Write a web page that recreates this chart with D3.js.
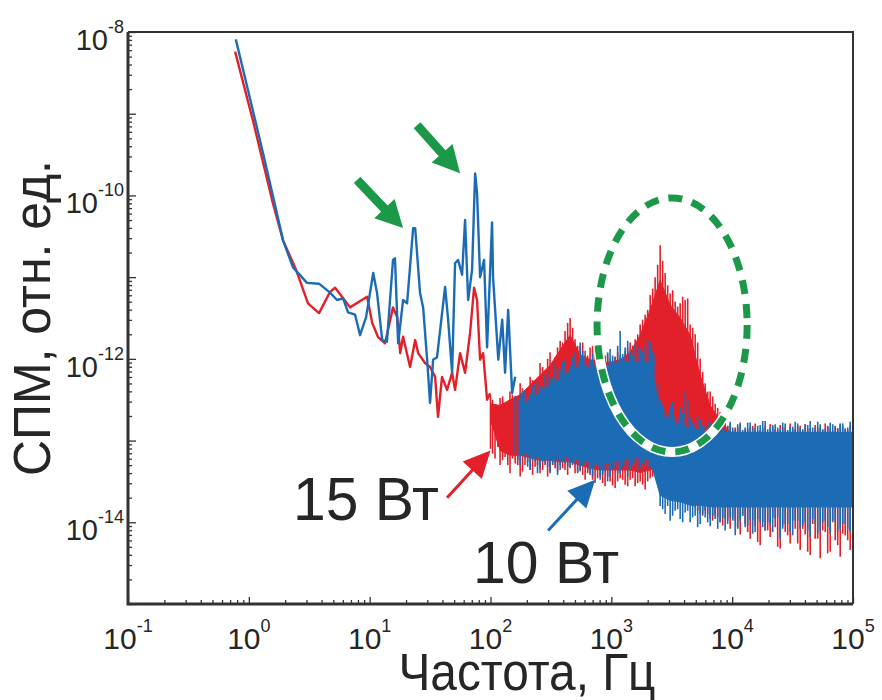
<!DOCTYPE html>
<html lang="ru">
<head>
<meta charset="UTF-8">
<title>СПМ</title>
<script src="https://d3js.org/d3.v7.min.js"></script>
<style>
  body { margin: 0; background: #fff; }
  svg text { font-family: "Liberation Sans", Arial, Helvetica, sans-serif; fill: #262626; }
</style>
</head>
<body>
<svg id="chart" width="882" height="700"></svg>
<script>
// значения СПМ записаны как lg(P), частоты в Гц
// 10 Вт, низкочастотная часть (отдельные точки)
const blueLineFreq = [0.78, 1.08, 1.31, 1.59, 1.92, 2.32, 3.03, 3.81, 4.70, 5.37, 6.03, 6.62, 7.57, 8.33, 9.34,
  10.7, 11.5, 12.7, 13.9, 15.6, 16.2, 17.2, 18.9, 20.4, 22.9, 23.8, 26.1, 27.7, 29.9, 31.6, 33.5, 36.1,
  42.1, 44.6, 48.1, 50.9, 53.9, 58.2, 61.6, 65.3, 70.4, 74.6, 77.4, 82.0, 88.5, 93.7, 103, 105, 116, 125,
  132, 140, 151, 160];
const blueLineLg = [-8.09, -8.96, -9.48, -10.02, -10.55, -10.88, -11.07, -11.08, -11.19, -11.28, -11.26, -11.43, -11.46, -11.71, -11.49,
  -10.95, -11.19, -11.77, -11.79, -10.79, -10.77, -11.81, -11.28, -11.32, -10.40, -10.40, -11.19, -11.37, -12.01, -12.54, -12.01, -11.98,
  -11.12, -11.52, -12.17, -10.83, -10.79, -10.97, -10.30, -11.28, -10.91, -9.73, -9.97, -11.00, -10.79, -11.86, -10.33, -11.00, -12.01, -11.52,
  -12.17, -11.40, -12.42, -12.22];

// 15 Вт, низкочастотная часть
const redLineFreq = [0.77, 1.08, 1.56, 1.92, 2.46, 3.09, 3.81, 4.70, 5.17, 5.91, 6.88, 9.52, 10.5, 11.7, 13.4, 15.6,
  16.9, 17.9, 18.9, 21.6, 23.8, 25.2, 28.7, 31.6, 34.8, 36.8, 39.7, 43.7, 48.1, 50.9, 56.0, 61.6, 67.8,
  73.1, 77.4, 82.0, 86.9, 93.7, 99.2];
const redLineLg = [-8.24, -9.08, -10.06, -10.55, -10.91, -11.32, -11.44, -11.18, -11.13, -11.24, -11.37, -11.24, -11.56, -11.73, -11.81, -11.37,
  -11.49, -11.93, -11.73, -12.10, -11.77, -11.93, -12.05, -12.10, -12.22, -12.71, -12.22, -12.38, -12.17, -12.38, -11.93, -12.17, -11.68,
  -11.13, -11.28, -12.01, -11.93, -12.50, -12.42];

// плотная (шумовая) часть: сплошное ядро полосы
const coreFreq = [100, 120, 145, 176, 213, 257, 311, 377, 456, 552, 667, 808, 977, 1183, 1431, 1732, 2096, 2535, 3068,
  3712, 4491, 5434, 6575, 7956, 9627, 11650, 14090, 17050, 20640, 24970, 30210, 36560, 44230, 53520, 64770,
  78360, 94800, 100000];
const redCoreHi = [-12.55, -12.57, -12.50, -12.44, -12.32, -12.20, -12.08, -11.89, -11.71, -11.95, -12.01, -12.04,
  -12.04, -12.01, -11.92, -11.71, -11.40, -11.04, -11.34, -11.50, -11.71, -12.20, -12.57, -12.75,
  -12.90, -12.90, -12.90, -12.90, -12.90, -12.90, -12.90, -12.90, -12.90, -12.90, -12.90, -12.90, -12.90, -12.90];
const redCoreLo = [-12.75, -13.12, -13.18, -13.18, -13.21, -13.24, -13.24, -13.26, -13.26, -13.30, -13.34, -13.36,
  -13.36, -13.36, -13.36, -13.39, -13.36, -13.30, -13.36, -13.48, -13.61, -13.73, -13.79, -13.81,
  -13.81, -13.81, -13.81, -13.81, -13.81, -13.81, -13.81, -13.81, -13.81, -13.81, -13.81, -13.81, -13.81, -13.81];
const blueCoreHi = [null, null, null, -12.57, -12.50, -12.41, -12.32, -12.24, -12.16, -12.08, -12.11, -12.11,
  -12.08, -12.04, -12.04, -12.04, -12.04, -12.65, -12.75, -12.81, -12.85, -12.87,
  -12.90, -12.90, -12.90, -12.90, -12.90, -12.90, -12.90, -12.90, -12.90, -12.90, -12.90, -12.90, -12.90, -12.90, -12.90, -12.90];
const blueCoreLo = [null, null, null, -13.12, -13.18, -13.21, -13.24, -13.21, -13.21, -13.24, -13.26, -13.30,
  -13.26, -13.24, -13.21, -13.21, -13.24, -13.67, -13.73, -13.75, -13.79, -13.79,
  -13.81, -13.81, -13.81, -13.81, -13.81, -13.81, -13.81, -13.81, -13.81, -13.81, -13.81, -13.81, -13.81, -13.81, -13.81, -13.81];

// выбросы шума: максимум и минимум в узких интервалах частот (первая сетка)
const spikeFreq = [100, 109, 120, 132, 145, 160, 176, 193, 213, 234, 257, 283, 311, 343, 377, 414, 456, 501, 552, 607,
  667, 734, 808, 888, 977, 1075, 1183, 1301, 1431, 1574, 1732, 1905, 2096, 2305, 2535, 2789, 3068, 3374, 3712, 4083,
  4491, 4940, 5434, 5977, 6575, 7233, 7956, 8752, 9627, 10590, 11650, 12810, 14090, 15500, 17050, 18760, 20640, 22700,
  24970, 27470, 30210, 33230, 36560, 40210, 44230, 48660, 53520, 58880, 64770, 71240, 78360, 86200, 94800, 100000];
const redSpikeHi = [-12.44, -12.60, -12.48, -12.66, -12.40, -12.58, -12.30, -12.47, -12.22, -12.38,
  -12.05, -12.14, -11.92, -11.98, -11.78, -11.66, -11.50, -11.76, -11.85, -11.90,
  -11.86, -11.95, -11.98, -11.96, -12.00, -11.97, -11.96, -11.90, -11.80, -11.76,
  -11.58, -11.46, -11.22, -11.00, -10.61, -10.95, -11.20, -11.30, -11.32, -11.28,
  -11.58, -11.70, -12.00, -12.30, -12.40, -12.55, -12.65, -12.72, -12.80, -12.84,
  -12.78, -12.86, -12.83, -12.79, -12.87, -12.82, -12.80, -12.86, -12.81, -12.84,
  -12.79, -12.86, -12.82, -12.80, -12.85, -12.81, -12.84, -12.79, -12.85, -12.82,
  -12.80, -12.86, -12.81, -12.84];
const redSpikeLo = [-13.10, -13.22, -13.30, -13.20, -13.40, -13.28, -13.44, -13.30, -13.36, -13.32,
  -13.40, -13.30, -13.38, -13.34, -13.30, -13.36, -13.32, -13.40, -13.36, -13.48,
  -13.42, -13.52, -13.44, -13.56, -13.50, -13.58, -13.46, -13.54, -13.48, -13.56,
  -13.50, -13.60, -13.46, -13.42, -13.38, -13.40, -13.44, -13.55, -13.62, -13.70,
  -13.76, -13.82, -13.90, -13.86, -13.95, -13.92, -14.00, -13.96, -14.08, -13.98,
  -14.15, -14.02, -14.20, -14.05, -14.28, -14.10, -14.18, -14.06, -14.32, -14.12,
  -14.26, -14.08, -14.34, -14.15, -14.40, -14.20, -14.44, -14.12, -14.36, -14.22,
  -14.42, -14.16, -14.34, -14.25];
const blueSpikeHi = [null, null, null, null, null, -12.45, -12.44, -12.38, -12.42, -12.30,
  -12.32, -12.20, -12.25, -12.06, -12.14, -12.00, -12.08, -11.92, -11.80, -11.96,
  -12.00, -12.05, -11.94, -12.02, -11.88, -11.98, -11.66, -11.86, -11.90, -11.82,
  -11.88, -11.84, -11.80, -11.96, -12.50, -12.62, -12.58, -12.70, -12.60, -12.40,
  -12.72, -12.80, -12.74, -12.82, -12.78, -12.86, -12.80, -12.84, -12.77, -12.86,
  -12.80, -12.84, -12.78, -12.85, -12.81, -12.76, -12.84, -12.80, -12.86, -12.79,
  -12.83, -12.77, -12.85, -12.80, -12.76, -12.84, -12.80, -12.86, -12.78, -12.83,
  -12.79, -12.85, -12.77, -12.82];
const blueSpikeLo = [null, null, null, null, null, -13.15, -13.30, -13.22, -13.36, -13.26,
  -13.34, -13.28, -13.40, -13.30, -13.36, -13.28, -13.34, -13.30, -13.38, -13.30,
  -13.40, -13.34, -13.48, -13.38, -13.44, -13.34, -13.40, -13.30, -13.36, -13.28,
  -13.34, -13.30, -13.32, -13.40, -13.80, -13.90, -13.98, -13.86, -13.96, -13.88,
  -14.00, -13.92, -14.02, -13.94, -14.05, -13.96, -14.00, -14.10, -13.94, -14.16,
  -13.98, -14.06, -13.97, -14.12, -14.00, -14.10, -14.04, -13.96, -14.20, -14.02,
  -14.12, -13.98, -14.08, -14.00, -14.18, -14.02, -14.10, -13.98, -14.14, -14.00,
  -14.08, -14.02, -14.12, -14.04];

// выбросы шума (вторая сетка, между узлами первой)
const spikeFreq2 = [104, 115, 126, 139, 152, 168, 184, 203, 223, 245, 270, 297, 327, 359, 395, 435, 478, 526,
  579, 637, 700, 770, 847, 932, 1025, 1128, 1241, 1365, 1501, 1652, 1817, 1998, 2198, 2418, 2660, 2926,
  3218, 3540, 3894, 4284, 4712, 5183, 5701, 6272, 6899, 7589, 8348, 9182, 10100, 11110, 12220, 13440,
  14790, 16270, 17890, 19680, 21650, 23810, 26190, 28810, 31690, 34860, 38350, 42170, 46390, 51030,
  56130, 61750, 67920, 74710, 82180, 90400];
const redSpikeHi2 = [-12.50, -12.62, -12.46, -12.58, -12.44,
  -12.52, -12.36, -12.40, -12.26, -12.30, -12.10, -12.00, -12.12, -11.86, -11.80, -11.56, -11.62, -11.84,
  -11.80, -11.96, -11.84, -11.92, -12.02, -11.94, -12.04, -11.92, -11.98, -11.86, -11.84, -11.70, -11.52,
  -11.40, -11.14,
  -10.85, -10.80, -11.10, -11.16, -11.36, -11.24, -11.26, -11.62, -11.80, -12.16, -12.40, -12.46, -12.60,
  -12.70, -12.82,
  -12.88, -12.84, -12.90, -12.86, -12.82, -12.88, -12.85, -12.90, -12.83, -12.87, -12.84, -12.89, -12.86,
  -12.82, -12.88, -12.85, -12.90, -12.84, -12.87, -12.83, -12.88, -12.85, -12.82, -12.87];
const redSpikeLo2 = [-13.16, -13.08, -13.24, -13.30, -13.22,
  -13.30, -13.38, -13.26, -13.42, -13.30, -13.36, -13.44, -13.30, -13.38, -13.34, -13.42, -13.30, -13.38,
  -13.42, -13.40, -13.48, -13.46, -13.52, -13.44, -13.55, -13.50, -13.48, -13.56, -13.46, -13.52, -13.54,
  -13.50, -13.44,
  -13.40, -13.34, -13.46, -13.40, -13.58, -13.66, -13.72, -13.80, -13.86, -13.92, -13.90, -13.98, -13.94,
  -14.04, -13.98,
  -13.96, -14.06, -13.92, -14.12, -13.98, -14.24, -14.00, -14.10, -13.94, -14.30, -14.04, -14.16, -13.98,
  -14.26, -14.08, -14.36, -14.02, -14.20, -14.10, -14.38, -14.00, -14.28, -14.14, -14.22];
const blueSpikeHi2 = [null, null, null, null, null,
  -12.50, -12.40, -12.46, -12.34, -12.28, -12.36, -12.16, -12.22, -12.10, -12.04, -12.12, -11.98, -12.02,
  -11.90, -12.04, -11.94, -11.84, -12.00, -11.92, -11.96, -11.84, -11.94, -11.78, -11.96, -11.84, -11.92,
  -11.76, -11.90,
  -12.30, -12.56, -12.66, -12.52, -12.72, -12.66, -12.50, -12.78, -12.70, -12.82, -12.76, -12.84, -12.80,
  -12.86, -12.82,
  -12.84, -12.80, -12.87, -12.78, -12.85, -12.82, -12.76, -12.86, -12.81, -12.84, -12.78, -12.87, -12.83,
  -12.79, -12.86, -12.81, -12.84, -12.77, -12.86, -12.82, -12.80, -12.85, -12.79, -12.84];
const blueSpikeLo2 = [null, null, null, null, null,
  -13.24, -13.18, -13.32, -13.24, -13.40, -13.26, -13.32, -13.28, -13.42, -13.26, -13.32, -13.28, -13.40,
  -13.30, -13.36, -13.44, -13.34, -13.42, -13.50, -13.36, -13.40, -13.32, -13.44, -13.30, -13.38, -13.28,
  -13.36, -13.30,
  -13.50, -13.84, -13.80, -13.92, -13.84, -14.00, -13.86, -13.94, -14.06, -13.90, -14.00, -13.92, -14.08,
  -13.94, -14.02,
  -13.98, -14.08, -13.92, -14.04, -14.14, -13.96, -14.06, -14.00, -14.12, -13.94, -14.08, -14.02, -14.16,
  -13.98, -14.04, -14.10, -13.96, -14.14, -14.00, -14.06, -13.98, -14.12, -14.02, -14.08];

// подписи делений (показатели степени)
const xTickExp = [-1, 0, 1, 2, 3, 4, 5];
const yTickExp = [-8, -10, -12, -14];

// аннотации в координатах данных [частота, lg P]
const greenArrows = [[[7.87, -9.81], [18.9, -10.40]], [[24.7, -9.14], [56.0, -9.73]]];
const redArrow = [[43.7, -13.70], [100, -13.12]];
const blueArrow = [[300, -14.10], [735, -13.48]];
const ellipseBox = { fLeft: 762, fRight: 13300, lgTop: -10.03, lgBottom: -13.14 };
const labels = [
  { text: "15 Вт", f: 2.32, lg: -13.97 },
  { text: "10 Вт", f: 71.8, lg: -14.74 }
];

const RED = "#e3202a", BLUE = "#1c6cb5", GREEN = "#1b9848";

const svg = d3.select("#chart");
const pLeft = 128, pRight = 853, pTop = 32, pBottom = 604;

const x = d3.scaleLog().domain([0.1, 1e5]).range([pLeft, pRight]);
const y = d3.scaleLog().domain([1e-15, 1e-8]).range([pBottom, pTop]);
const P = v => Math.pow(10, v);

svg.append("defs").append("clipPath").attr("id", "plot")
  .append("rect").attr("x", pLeft).attr("y", pTop).attr("width", pRight - pLeft).attr("height", pBottom - pTop);

const plot = svg.append("g").attr("clip-path", "url(#plot)");

const line = d3.line().x(d => x(d[0])).y(d => y(P(d[1])));
const core = d3.area()
  .defined(d => d[1] != null)
  .x(d => x(d[0]))
  .y0(d => y(P(d[2])))
  .y1(d => y(P(d[1])));

function spikes(freq, hi, lo, color) {
  plot.append("g").selectAll("line")
    .data(freq.map((f, i) => [f, hi[i], lo[i]]).filter(d => d[1] != null))
    .join("line")
    .attr("x1", d => x(d[0])).attr("x2", d => x(d[0]))
    .attr("y1", d => y(P(d[1]))).attr("y2", d => y(P(d[2])))
    .attr("stroke", color)
    .attr("stroke-width", 1.6);
}

function drawSeries(s, color) {
  plot.append("path")
    .datum(s.freq.map((f, i) => [f, s.lg[i]]))
    .attr("d", line)
    .attr("fill", "none")
    .attr("stroke", color)
    .attr("stroke-width", 2.4)
    .attr("stroke-linejoin", "round");
  plot.append("path")
    .datum(coreFreq.map((f, i) => [f, s.coreHi[i], s.coreLo[i]]))
    .attr("d", core)
    .attr("fill", color)
    .attr("stroke", color)
    .attr("stroke-width", 1);
  spikes(spikeFreq, s.hi, s.lo, color);
  spikes(spikeFreq2, s.hi2, s.lo2, color);
}

drawSeries({ freq: redLineFreq, lg: redLineLg, coreHi: redCoreHi, coreLo: redCoreLo,
  hi: redSpikeHi, lo: redSpikeLo, hi2: redSpikeHi2, lo2: redSpikeLo2 }, RED);
drawSeries({ freq: blueLineFreq, lg: blueLineLg, coreHi: blueCoreHi, coreLo: blueCoreLo,
  hi: blueSpikeHi, lo: blueSpikeLo, hi2: blueSpikeHi2, lo2: blueSpikeLo2 }, BLUE);

// пунктирный эллипс
const ex0 = x(ellipseBox.fLeft), ex1 = x(ellipseBox.fRight);
const ey0 = y(P(ellipseBox.lgTop)), ey1 = y(P(ellipseBox.lgBottom));
[["#fff", 10, null], [GREEN, 7, "14 10"]].forEach(([c, w, dash]) => {
  svg.append("ellipse")
    .attr("cx", (ex0 + ex1) / 2).attr("cy", (ey0 + ey1) / 2)
    .attr("rx", (ex1 - ex0) / 2).attr("ry", (ey1 - ey0) / 2)
    .attr("fill", "none").attr("stroke", c).attr("stroke-width", w)
    .attr("stroke-dasharray", dash);
});

// стрелки
function arrow(a, color, shaft, head, half) {
  const x0 = x(a[0][0]), y0 = y(P(a[0][1])), x1 = x(a[1][0]), y1 = y(P(a[1][1]));
  const len = Math.hypot(x1 - x0, y1 - y0), ux = (x1 - x0) / len, uy = (y1 - y0) / len;
  const bx = x1 - ux * head, by = y1 - uy * head;
  svg.append("line")
    .attr("x1", x0).attr("y1", y0).attr("x2", bx + ux * 2).attr("y2", by + uy * 2)
    .attr("stroke", color).attr("stroke-width", shaft);
  svg.append("polygon")
    .attr("points", [[x1, y1], [bx - uy * half, by + ux * half], [bx + uy * half, by - ux * half]].join(" "))
    .attr("fill", color);
}
greenArrows.forEach(a => arrow(a, GREEN, 9, 27, 14));
arrow(redArrow, RED, 3, 27, 13);
arrow(blueArrow, BLUE, 3, 27, 13);

// рамка и деления
const axisColor = "#333";
const isDecade = v => Math.abs(Math.log10(v) - Math.round(Math.log10(v))) < 1e-6;
const yMinor = y.ticks().filter(v => !isDecade(v));
const xMinor = x.ticks().filter(v => !isDecade(v));
const yMajor = d3.range(-15, -7).map(P);
const xMajor = d3.range(-1, 6).map(P);

function ticks(axis, vals, size, transform) {
  const g = svg.append("g")
    .attr("transform", transform)
    .call(axis.tickValues(vals).tickSize(size).tickFormat(""));
  g.select(".domain").remove();
  g.selectAll("line").attr("stroke", axisColor).attr("stroke-width", 1.3);
}
ticks(d3.axisLeft(y), yMinor, -4, `translate(${pLeft},0)`);
ticks(d3.axisLeft(y), yMajor, -8, `translate(${pLeft},0)`);
ticks(d3.axisBottom(x), xMinor, -4, `translate(0,${pBottom})`);
ticks(d3.axisBottom(x), xMajor, -7, `translate(0,${pBottom})`);

svg.append("path")
  .attr("d", `M${pLeft},${pTop}H${pRight}V${pBottom}`)
  .attr("fill", "none").attr("stroke", axisColor).attr("stroke-width", 2);
svg.append("path")
  .attr("d", `M${pLeft},${pTop}V${pBottom}H${pRight}`)
  .attr("fill", "none").attr("stroke", axisColor).attr("stroke-width", 3);

// подписи делений
yTickExp.forEach(e => {
  const t = svg.append("text")
    .attr("x", 124).attr("y", y(P(e)) + 18)
    .attr("text-anchor", "end")
    .style("font-size", "29px");
  t.append("tspan").text("10");
  t.append("tspan").attr("dy", -17).style("font-size", "18px").text(e);
});
xTickExp.forEach(e => {
  const t = svg.append("text")
    .attr("x", x(P(e))).attr("y", 649)
    .attr("text-anchor", "middle")
    .style("font-size", "30px");
  t.append("tspan").text("10");
  t.append("tspan").attr("dy", -17).style("font-size", "18px").text(e);
});

// названия осей
svg.append("text")
  .attr("transform", "translate(50,318) rotate(-90)")
  .attr("text-anchor", "middle")
  .attr("textLength", 316).attr("lengthAdjust", "spacingAndGlyphs")
  .style("font-size", "52px")
  .text("СПМ, отн. ед.");
svg.append("text")
  .attr("x", 527).attr("y", 690)
  .attr("text-anchor", "middle")
  .attr("textLength", 257).attr("lengthAdjust", "spacingAndGlyphs")
  .style("font-size", "51px")
  .text("Частота, Гц");

// подписи мощностей
labels.forEach((d, i) => {
  svg.append("text")
    .attr("x", x(d.f)).attr("y", y(P(d.lg)))
    .attr("textLength", 146).attr("lengthAdjust", "spacingAndGlyphs")
    .style("font-size", i === 0 ? "62px" : "60px")
    .text(d.text);
});
</script>
</body>
</html>
